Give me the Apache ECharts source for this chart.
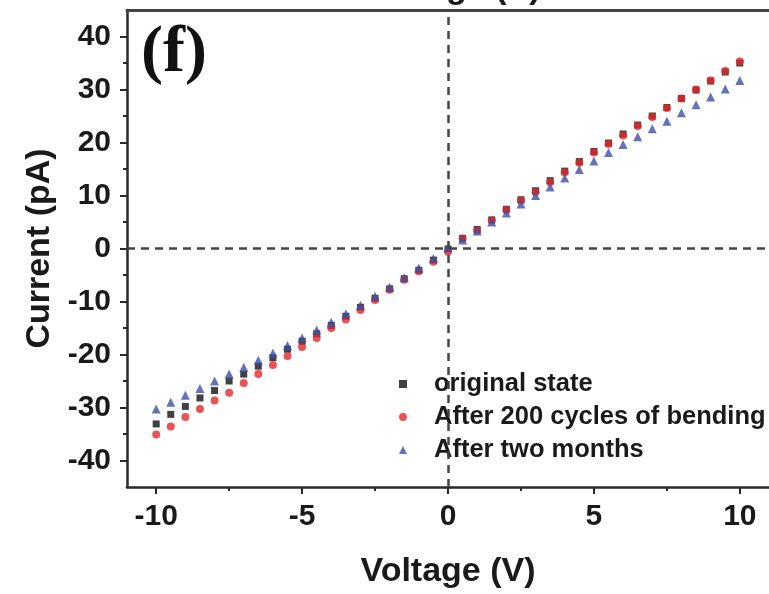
<!DOCTYPE html>
<html>
<head>
<meta charset="utf-8">
<script src="https://cdn.jsdelivr.net/npm/echarts@6/dist/echarts.min.js"></script>
<style>
html,body{margin:0;padding:0;background:#fff;}
#chart{width:769px;height:594px;}
</style>
</head>
<body>
<div id="chart"></div>
<script>
var voltage = [-10,-9.5,-9,-8.5,-8,-7.5,-7,-6.5,-6,-5.5,-5,-4.5,-4,-3.5,-3,-2.5,-2,-1.5,-1,-0.5,0,
  0.5,1,1.5,2,2.5,3,3.5,4,4.5,5,5.5,6,6.5,7,7.5,8,8.5,9,9.5,10];
var originalState = [-33.1,-31.3,-29.8,-28.2,-26.8,-25.0,-23.7,-22.2,-20.6,-19.0,-17.5,-16.1,-14.5,-12.8,-11.1,-9.4,-7.6,-5.7,-4.1,-2.2,-0.1,
  1.9,3.6,5.4,7.4,9.2,10.9,12.8,14.6,16.4,18.3,19.9,21.6,23.3,25.0,26.6,28.3,29.9,31.6,33.3,35.0];
var afterBending = [-35.1,-33.6,-31.8,-30.3,-28.7,-27.2,-25.4,-23.7,-22.0,-20.3,-18.6,-16.9,-15.0,-13.4,-11.6,-9.7,-7.8,-5.9,-4.3,-2.5,-0.6,
  1.9,3.4,5.3,7.2,9.0,10.6,12.5,14.4,16.2,18.1,19.7,21.3,23.1,24.8,26.5,28.3,30.0,31.7,33.5,35.3];
var afterTwoMonths = [-30.3,-29.0,-27.7,-26.4,-25.0,-23.7,-22.4,-21.1,-19.7,-18.3,-16.9,-15.4,-13.9,-12.3,-10.7,-9.0,-7.3,-5.5,-3.7,-1.9,0.2,
  1.6,3.3,5.0,6.7,8.4,10.0,11.6,13.3,14.9,16.5,18.1,19.6,21.1,22.6,24.0,25.6,27.1,28.6,30.1,31.7];
var seriesNames = ['original state','After 200 cycles of bending','After two months'];
var xMajorTicks = [-10,-5,0,5,10];
var xMinorTicks = [-7.5,-2.5,2.5,7.5];
var yMajorTicks = [-40,-30,-20,-10,0,10,20,30,40];
var yMinorTicks = [-35,-25,-15,-5,5,15,25,35];

function pairs(ys){ return voltage.map(function(v,i){ return [v, ys[i]]; }); }

var FONT = 'Liberation Sans, Arial, sans-serif';
var axisColor = '#2a2a2a';
var chart = echarts.init(document.getElementById('chart'), null, {renderer:'canvas'});
var option = {
  animation:false,
  backgroundColor:'#fff',
  grid:{left:127, right:-8, top:10, bottom:104, containLabel:false},
  legend:{
    orient:'vertical', left:394, top:366, itemWidth:8, itemHeight:8, itemGap:7,
    data:seriesNames,
    textStyle:{fontFamily:FONT, fontWeight:'bold', fontSize:25.5, color:'#1a1a1a', lineHeight:25, padding:[0,0,0,22]}
  },
  xAxis:[
    {type:'value', min:-11, max:11, position:'bottom',
     axisLine:{show:true, onZero:false, lineStyle:{color:axisColor, width:2.5}},
     axisTick:{show:true, customValues:xMajorTicks, length:7, lineStyle:{color:axisColor, width:2}},
     axisLabel:{customValues:xMajorTicks, fontFamily:FONT, fontWeight:'bold', fontSize:30, color:'#1a1a1a', margin:15},
     splitLine:{show:false},
     name:'Voltage (V)', nameLocation:'middle', nameGap:68,
     nameTextStyle:{fontFamily:FONT, fontWeight:'bold', fontSize:34, color:'#1a1a1a'}},
    {type:'value', min:-11, max:11, position:'bottom',
     axisLine:{show:false, onZero:false},
     axisTick:{show:true, customValues:xMinorTicks, length:4, lineStyle:{color:axisColor, width:2}},
     axisLabel:{show:false}, splitLine:{show:false}},
    {type:'value', min:-11, max:11, position:'top',
     axisLine:{show:true, onZero:false, lineStyle:{color:'#444', width:3}},
     axisTick:{show:false}, axisLabel:{show:false}, splitLine:{show:false}}
  ],
  yAxis:[
    {type:'value', min:-45, max:45, position:'left',
     axisLine:{show:true, onZero:false, lineStyle:{color:axisColor, width:2.5}},
     axisTick:{show:true, customValues:yMajorTicks, length:7, lineStyle:{color:axisColor, width:2}},
     axisLabel:{customValues:yMajorTicks, fontFamily:FONT, fontWeight:'bold', fontSize:30, color:'#1a1a1a', margin:16},
     splitLine:{show:false},
     name:'Current (pA)', nameLocation:'middle', nameGap:70, nameRotate:90,
     nameTextStyle:{fontFamily:FONT, fontWeight:'bold', fontSize:34, color:'#1a1a1a'}},
    {type:'value', min:-45, max:45, position:'left',
     axisLine:{show:false, onZero:false},
     axisTick:{show:true, customValues:yMinorTicks, length:4, lineStyle:{color:axisColor, width:2}},
     axisLabel:{show:false}, splitLine:{show:false}}
  ],
  graphic:[
    {type:'text', x:141, y:21, silent:true,
     style:{text:'(f)', font:'bold 66px "Liberation Serif", "Times New Roman", serif', fill:'#111'}},
    {type:'text', x:453, y:6, silent:true,
     style:{text:'Voltage (V)', font:'bold 34px "Liberation Sans", Arial, sans-serif', fill:'#1a1a1a',
            align:'center', textAlign:'center', verticalAlign:'bottom', textVerticalAlign:'bottom'}}
  ],
  series:[
    {name:seriesNames[0], type:'scatter', xAxisIndex:0, yAxisIndex:0, symbol:'rect', symbolSize:7,
     itemStyle:{color:'#111'}, data:pairs(originalState),
     markLine:{silent:true, symbol:['none','none'], label:{show:false},
       lineStyle:{type:[8,6], color:'#444', width:2.5},
       data:[{xAxis:0},{yAxis:0}]}},
    {name:seriesNames[1], type:'scatter', xAxisIndex:0, yAxisIndex:0, symbol:'circle', symbolSize:8,
     itemStyle:{color:'#e3282c'}, data:pairs(afterBending)},
    {name:seriesNames[2], type:'scatter', xAxisIndex:0, yAxisIndex:0, symbol:'triangle', symbolSize:9,
     itemStyle:{color:'#3d50a6'}, data:pairs(afterTwoMonths)}
  ]
};
chart.setOption(option);
</script>
</body>
</html>
